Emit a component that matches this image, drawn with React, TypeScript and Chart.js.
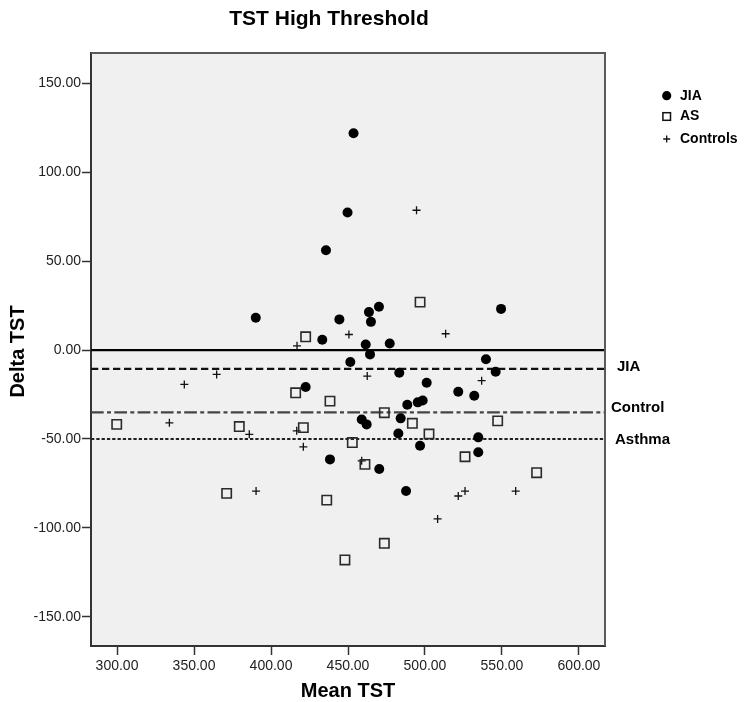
import { useEffect, useRef } from "react";
import { Chart, registerables } from "chart.js";

Chart.register(...registerables);

// ---- data ----
const JIA_MEAN = [453.6, 449.7, 435.7, 390.1, 444.4, 433.3, 451.5, 422.5, 470.1, 463.6, 464.9, 549.4, 461.5, 477.1, 464.3, 539.6, 483.3, 545.9, 501.1, 521.6, 532.0, 498.5, 495.3, 488.5, 458.9, 484.2, 462.1, 482.7, 534.6, 496.8, 534.6, 470.3, 487.7, 438.3];
const JIA_DELTA = [122.0, 77.4, 56.2, 18.2, 17.3, 5.8, -6.7, -20.8, 24.4, 21.4, 15.9, 23.2, 3.2, 3.7, -2.4, -5.1, -12.7, -12.2, -18.4, -23.4, -25.7, -28.3, -29.4, -30.7, -39.0, -38.4, -41.8, -46.9, -49.1, -53.8, -57.5, -66.9, -79.3, -61.5];

const AS_MEAN = [422.5, 416.0, 438.3, 299.8, 379.4, 421.0, 452.8, 371.2, 436.2, 448.0, 496.8, 473.6, 491.8, 547.2, 502.6, 526.0, 461.0, 572.5, 473.6];
const AS_DELTA = [7.5, -24.0, -28.7, -41.8, -43.0, -43.6, -52.0, -80.6, -84.4, -118.1, 27.0, -35.2, -41.2, -39.8, -47.2, -60.0, -64.3, -69.0, -108.7];

const CTRL_MEAN = [494.5, 450.6, 416.9, 364.7, 343.7, 334.0, 385.9, 416.7, 421.0, 390.3, 513.4, 462.5, 536.8, 458.9, 521.6, 526.0, 558.9, 508.2];
const CTRL_DELTA = [78.7, 8.8, 2.4, -13.7, -19.3, -40.9, -47.4, -45.4, -54.4, -79.3, 9.2, -14.6, -17.2, -62.3, -82.1, -79.3, -79.3, -95.0];

const SERIES_NAMES = ["JIA", "AS", "Controls"];
const REF_LABELS = ["JIA", "Control", "Asthma"];
const REF_VALUES = [-10.5, -35.0, -50.0];
const ZERO_VALUE = 0;

const X_RANGE = [283.1, 616.9];
const Y_RANGE = [-166.5, 167.2];
const X_STEP = 50;
const Y_STEP = 50;

const TITLE = "TST High Threshold";
const X_TITLE = "Mean TST";
const Y_TITLE = "Delta TST";

const FONT = "'Liberation Sans', Arial, Helvetica, sans-serif";

const pts = (xs: number[], ys: number[]) => xs.map((x, i) => ({ x, y: ys[i] }));
const hline = (v: number) => [
  { x: X_RANGE[0], y: v },
  { x: X_RANGE[1], y: v },
];

const decorPlugin = {
  id: "decor",
  beforeDraw(chart: any) {
    const { ctx, chartArea: a } = chart;
    ctx.save();
    ctx.fillStyle = "#ffffff";
    ctx.fillRect(0, 0, chart.width, chart.height);
    ctx.fillStyle = "#F0F0F0";
    ctx.fillRect(a.left, a.top, a.right - a.left, a.bottom - a.top);
    ctx.restore();
  },
  afterDraw(chart: any) {
    const { ctx, chartArea: a, scales } = chart;
    ctx.save();
    // top and right frame
    ctx.strokeStyle = "#5a5a5a";
    ctx.lineWidth = 2;
    ctx.beginPath();
    ctx.moveTo(a.left, a.top);
    ctx.lineTo(a.right, a.top);
    ctx.lineTo(a.right, a.bottom);
    ctx.stroke();

    ctx.fillStyle = "#000";
    // title
    ctx.font = `bold 21px ${FONT}`;
    ctx.textAlign = "center";
    ctx.textBaseline = "alphabetic";
    ctx.fillText(TITLE, 329, 24.5);
    // x title
    ctx.font = `bold 20px ${FONT}`;
    ctx.fillText(X_TITLE, (a.left + a.right) / 2, 697);
    // y title
    ctx.save();
    ctx.translate(24, (a.top + a.bottom) / 2 + 2);
    ctx.rotate(-Math.PI / 2);
    ctx.fillText(Y_TITLE, 0, 0);
    ctx.restore();

    // reference line labels
    const y = scales.y;
    const labelX = [617, 611, 615];
    const labelDy = [-2, -4, 1.3];
    ctx.font = `bold 15px ${FONT}`;
    ctx.textAlign = "left";
    ctx.textBaseline = "middle";
    REF_LABELS.forEach((t, i) => {
      ctx.fillText(t, labelX[i], y.getPixelForValue(REF_VALUES[i]) + labelDy[i]);
    });

    // legend
    const lx = 666.7;
    const rows = [95.7, 116.5, 139];
    ctx.font = `bold 14px ${FONT}`;
    SERIES_NAMES.forEach((name, i) => {
      const cy = rows[i];
      ctx.fillStyle = "#000";
      ctx.strokeStyle = "#111";
      if (i === 0) {
        ctx.beginPath();
        ctx.arc(lx, cy, 4.6, 0, Math.PI * 2);
        ctx.fill();
      } else if (i === 1) {
        ctx.lineWidth = 1.5;
        ctx.strokeRect(lx - 3.8, cy - 3.8, 7.6, 7.6);
      } else {
        ctx.lineWidth = 1.3;
        ctx.beginPath();
        ctx.moveTo(lx - 3.5, cy);
        ctx.lineTo(lx + 3.5, cy);
        ctx.moveTo(lx, cy - 3.5);
        ctx.lineTo(lx, cy + 3.5);
        ctx.stroke();
      }
      ctx.fillStyle = "#000";
      ctx.fillText(name, 680, cy);
    });
    ctx.restore();
  },
};

export default function App() {
  const ref = useRef<HTMLCanvasElement | null>(null);

  useEffect(() => {
    if (!ref.current) return;
    const chart = new Chart(ref.current, {
      type: "scatter",
      data: {
        datasets: [
          {
            label: SERIES_NAMES[0],
            data: pts(JIA_MEAN, JIA_DELTA),
            pointStyle: "circle",
            pointRadius: 5,
            backgroundColor: "#000",
            borderColor: "#000",
            borderWidth: 0,
            order: 0,
          },
          {
            label: SERIES_NAMES[1],
            data: pts(AS_MEAN, AS_DELTA),
            pointStyle: "rect",
            pointRadius: 6.6,
            backgroundColor: "rgba(0,0,0,0)",
            borderColor: "#2a2a2a",
            borderWidth: 1.6,
            order: 0,
          },
          {
            label: SERIES_NAMES[2],
            data: pts(CTRL_MEAN, CTRL_DELTA),
            pointStyle: "cross",
            pointRadius: 4,
            backgroundColor: "#111",
            borderColor: "#111",
            borderWidth: 1.3,
            order: 0,
          },
          {
            label: "zero",
            type: "line",
            data: hline(ZERO_VALUE),
            borderColor: "#000",
            borderWidth: 2.2,
            pointRadius: 0,
            order: 1,
          },
          {
            label: REF_LABELS[0],
            type: "line",
            data: hline(REF_VALUES[0]),
            borderColor: "#111",
            borderWidth: 2.2,
            borderDash: [7.3, 3.7],
            pointRadius: 0,
            order: 1,
          },
          {
            label: REF_LABELS[1],
            type: "line",
            data: hline(REF_VALUES[1]),
            borderColor: "#444",
            borderWidth: 2.2,
            borderDash: [12.7, 3.3, 4, 3.3],
            pointRadius: 0,
            order: 1,
          },
          {
            label: REF_LABELS[2],
            type: "line",
            data: hline(REF_VALUES[2]),
            borderColor: "#222",
            borderWidth: 2,
            borderDash: [3.3, 2],
            pointRadius: 0,
            order: 1,
          },
        ] as any,
      },
      options: {
        animation: false,
        responsive: false,
        layout: { padding: { top: 53, right: 149, bottom: 0, left: 0 } },
        plugins: {
          legend: { display: false },
          tooltip: { enabled: false },
          title: { display: false },
        },
        scales: {
          x: {
            type: "linear",
            min: X_RANGE[0],
            max: X_RANGE[1],
            afterFit: (s: any) => {
              s.height = 56;
            },
            ticks: {
              stepSize: X_STEP,
              includeBounds: false,
              padding: 3,
              color: "#222",
              font: { family: FONT, size: 14 },
              callback: (v: any) => Number(v).toFixed(2),
              maxRotation: 0,
            },
            grid: {
              drawOnChartArea: false,
              drawTicks: true,
              tickLength: 9,
              tickWidth: 1.5,
              tickColor: "#333",
            },
            border: { display: true, color: "#333", width: 2 },
          },
          y: {
            type: "linear",
            min: Y_RANGE[0],
            max: Y_RANGE[1],
            afterFit: (s: any) => {
              s.width = 91;
            },
            ticks: {
              stepSize: Y_STEP,
              includeBounds: false,
              padding: 1,
              color: "#222",
              font: { family: FONT, size: 14 },
              callback: (v: any) => Number(v).toFixed(2),
            },
            grid: {
              drawOnChartArea: false,
              drawTicks: true,
              tickLength: 9,
              tickWidth: 1.5,
              tickColor: "#333",
            },
            border: { display: true, color: "#333", width: 2 },
          },
        },
      } as any,
      plugins: [decorPlugin],
    });
    return () => chart.destroy();
  }, []);

  return (
    <div style={{ position: "absolute", left: 0, top: 0, width: 754, height: 702 }}>
      <canvas ref={ref} width={754} height={702} style={{ display: "block", width: 754, height: 702 }} />
    </div>
  );
}
